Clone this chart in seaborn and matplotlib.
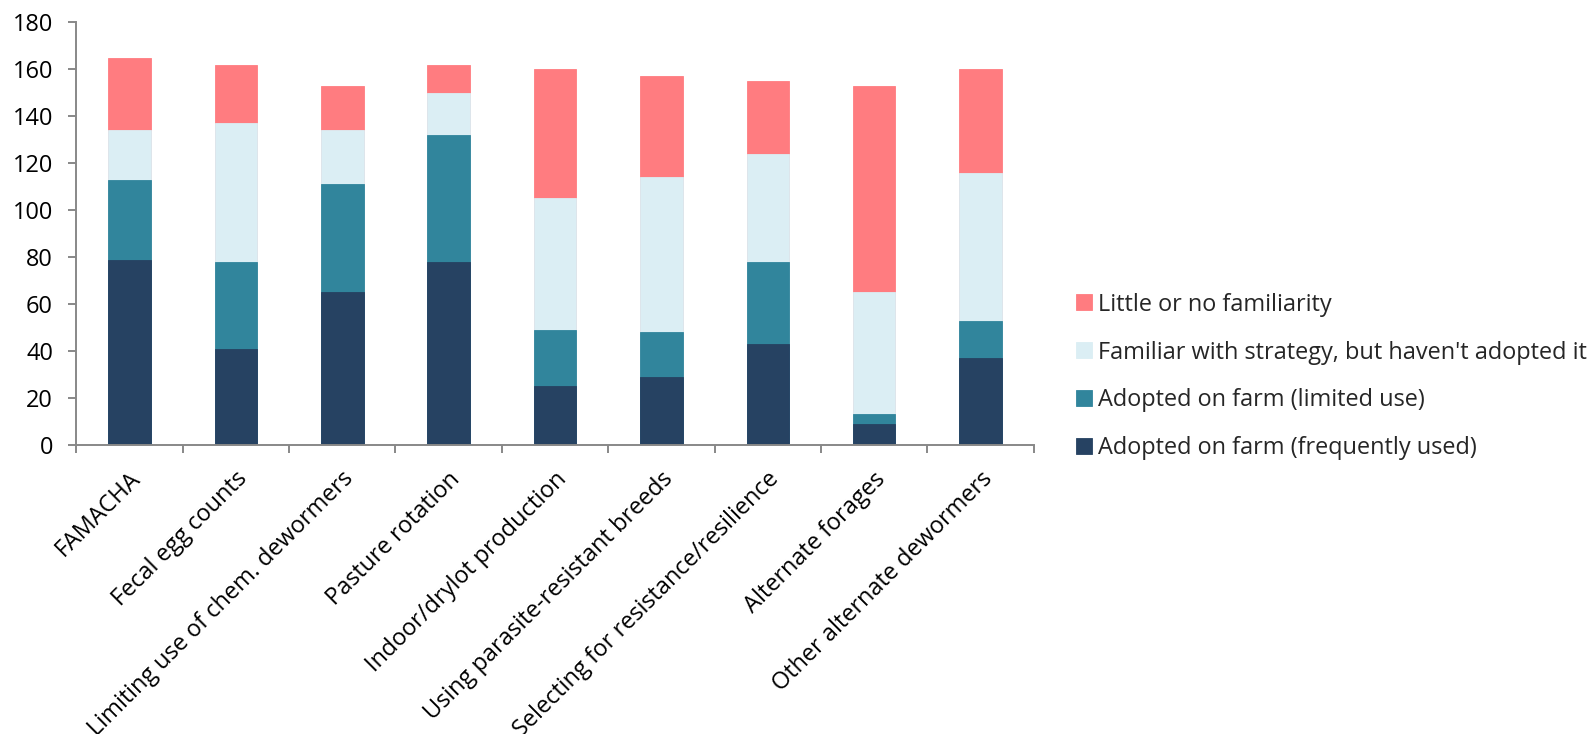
import numpy as np
import pandas as pd
import matplotlib
matplotlib.use("Agg")
import matplotlib.pyplot as plt
import matplotlib.transforms as mtransforms
import seaborn as sns

# Parasite-control strategies surveyed
strategies = [
    "FAMACHA",
    "Fecal egg counts",
    "Limiting use of chem. dewormers",
    "Pasture rotation",
    "Indoor/drylot production",
    "Using parasite-resistant breeds",
    "Selecting for resistance/resilience",
    "Alternate forages",
    "Other alternate dewormers",
]

# Number of respondents in each familiarity / adoption group
frequently_used = [79, 41, 65, 78, 25, 29, 43, 9, 37]
limited_use = [34, 37, 46, 54, 24, 19, 35, 4, 16]
familiar_not_adopted = [21, 59, 23, 18, 56, 66, 46, 52, 63]
little_familiarity = [31, 25, 19, 12, 55, 43, 31, 88, 44]

series_labels = [
    "Adopted on farm (frequently used)",
    "Adopted on farm (limited use)",
    "Familiar with strategy, but haven't adopted it",
    "Little or no familiarity",
]
series_colors = ["#264262", "#31859C", "#DBEEF4", "#FF7C80"]

y_ticks = [0, 20, 40, 60, 80, 100, 120, 140, 160, 180]

sns.set_theme(style="ticks")
plt.rcParams["font.family"] = ["Open Sans", "DejaVu Sans"]
FONT_SIZE = 16.9

df = pd.DataFrame({
    "strategy": strategies,
    series_labels[0]: frequently_used,
    series_labels[1]: limited_use,
    series_labels[2]: familiar_not_adopted,
    series_labels[3]: little_familiarity,
})
# Stack heights: running totals of the four groups
stack = df[series_labels].cumsum(axis=1)
stack["strategy"] = strategies

fig = plt.figure(figsize=(15.91, 7.34), dpi=100)
ax = fig.add_axes([0.04796, 0.3937, 0.6018, 0.5759])

# Draw the tallest running total first so lower segments sit on top of it
for label, color in zip(series_labels[::-1], series_colors[::-1]):
    sns.barplot(
        data=stack, x="strategy", y=label, color=color, label=label,
        width=0.40, saturation=1, edgecolor=color, linewidth=0.6,
        ax=ax, errorbar=None,
    )

axis_grey = "#888888"
ax.set_xlim(-0.5, len(strategies) - 0.5)
ax.set_ylim(0, 180)
ax.set_yticks(y_ticks)
ax.set_xlabel("")
ax.set_ylabel("")

for side in ("top", "right"):
    ax.spines[side].set_visible(False)
for side in ("left", "bottom"):
    ax.spines[side].set_color(axis_grey)
    ax.spines[side].set_linewidth(1.4)

ax.tick_params(axis="y", direction="out", length=5.8, width=1.4,
               color=axis_grey, labelsize=FONT_SIZE, labelcolor="black", pad=11)

# Tick marks at category boundaries, labels at category centres
ax.set_xticks(np.arange(-0.5, len(strategies), 1.0))
ax.set_xticklabels([])
ax.set_xticks(np.arange(len(strategies)), minor=True)
ax.set_xticklabels(strategies, minor=True, rotation=45, ha="right",
                   va="center", rotation_mode="anchor")
ax.tick_params(axis="x", which="major", direction="out", length=5.8,
               width=1.4, color=axis_grey)
ax.tick_params(axis="x", which="minor", length=0, labelsize=FONT_SIZE,
               labelcolor="black", pad=22)
shift = mtransforms.ScaledTranslation(8 / 100, 0, fig.dpi_scale_trans)
for lbl in ax.get_xticklabels(minor=True):
    lbl.set_transform(lbl.get_transform() + shift)

handles, labels = ax.get_legend_handles_labels()
if ax.legend_ is not None:
    ax.legend_.remove()
fig.legend(handles, labels, loc="center left",
           bbox_to_anchor=(1076 / 1591, 1 - 376.5 / 734),
           frameon=False, fontsize=FONT_SIZE, handlelength=0.68,
           handleheight=0.68, handletextpad=0.27, labelspacing=1.02,
           borderpad=0, borderaxespad=0)

fig.savefig("out.png", dpi=100)
